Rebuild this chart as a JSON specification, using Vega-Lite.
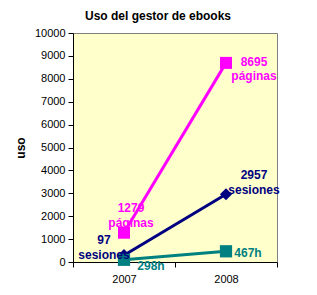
{
  "$schema": "https://vega.github.io/schema/vega-lite/v6.json",
  "width": 204,
  "height": 229,
  "autosize": "none",
  "padding": {"left": 73, "top": 33, "right": 40, "bottom": 33},
  "background": "white",
  "title": {"text": "Uso del gestor de ebooks", "font": "Liberation Sans", "fontSize": 12, "fontWeight": "bold", "color": "black", "anchor": "middle", "dx": -17, "offset": 4},
  "config": {
    "view": {"fill": "#FFFFCC", "stroke": "#808080", "strokeWidth": 1},
    "axis": {"labelFont": "Liberation Sans", "labelFontSize": 11, "labelColor": "black", "domainColor": "black", "tickColor": "black", "grid": false, "titleFont": "Liberation Sans", "titleFontSize": 12, "titleFontWeight": "bold", "titleColor": "black"}
  },
  "datasets": {
    "series": [
      {"serie": "paginas", "year": "2007", "value": 1279},
      {"serie": "paginas", "year": "2008", "value": 8695},
      {"serie": "sesiones", "year": "2007", "value": 298},
      {"serie": "sesiones", "year": "2008", "value": 2957},
      {"serie": "horas", "year": "2007", "value": 97},
      {"serie": "horas", "year": "2008", "value": 467}
    ],
    "labels": [
      {"id": "p08", "serie": "paginas", "year": "2008", "value": 8695, "text": "8695\npáginas"},
      {"id": "p07", "serie": "paginas", "year": "2007", "value": 1279, "text": "1279\npáginas"},
      {"id": "s07", "serie": "sesiones", "year": "2007", "value": 298, "text": "97\nsesiones"},
      {"id": "s08", "serie": "sesiones", "year": "2008", "value": 2957, "text": "2957\nsesiones"},
      {"id": "h07", "serie": "horas", "year": "2007", "value": 97, "text": "298h"},
      {"id": "h08", "serie": "horas", "year": "2008", "value": 467, "text": "467h"}
    ]
  },
  "encoding": {
    "x": {"field": "year", "type": "ordinal", "scale": {"type": "band", "paddingInner": 0, "paddingOuter": 0}, "axis": {"title": null, "labelAngle": 0, "tickBand": "extent", "tickSize": 5, "labelPadding": 6}},
    "y": {"field": "value", "type": "quantitative", "scale": {"domain": [0, 10000], "nice": false}, "axis": {"title": "uso", "values": [0, 1000, 2000, 3000, 4000, 5000, 6000, 7000, 8000, 9000, 10000], "format": "d", "tickSize": 5, "labelPadding": 3, "titlePadding": 7}},
    "color": {"field": "serie", "type": "nominal", "scale": {"domain": ["paginas", "sesiones", "horas"], "range": ["#FF00FF", "#000080", "#008080"]}, "legend": null}
  },
  "layer": [
    {"data": {"name": "series"}, "mark": {"type": "line", "strokeWidth": 3}},
    {"data": {"name": "series"}, "mark": {"type": "point", "filled": true, "opacity": 1},
      "encoding": {
        "shape": {"field": "serie", "type": "nominal", "scale": {"domain": ["paginas", "sesiones", "horas"], "range": ["square", "diamond", "square"]}, "legend": null},
        "size": {"field": "serie", "type": "nominal", "scale": {"domain": ["paginas", "sesiones", "horas"], "range": [144, 150, 100]}, "legend": null}
      }},
    {"data": {"name": "labels"}, "transform": [{"filter": "datum.id == 'p08'"}], "mark": {"type": "text", "font": "Liberation Sans", "fontSize": 12, "fontWeight": "bold", "lineBreak": "\n", "lineHeight": 14, "baseline": "middle", "align": "center", "dx": 28, "dy": -1}, "encoding": {"text": {"field": "text"}}},
    {"data": {"name": "labels"}, "transform": [{"filter": "datum.id == 'p07'"}], "mark": {"type": "text", "font": "Liberation Sans", "fontSize": 12, "fontWeight": "bold", "lineBreak": "\n", "lineHeight": 15, "baseline": "middle", "align": "center", "dx": 7, "dy": -25}, "encoding": {"text": {"field": "text"}}},
    {"data": {"name": "labels"}, "transform": [{"filter": "datum.id == 's07'"}], "mark": {"type": "text", "font": "Liberation Sans", "fontSize": 12, "fontWeight": "bold", "lineBreak": "\n", "lineHeight": 15, "baseline": "middle", "align": "center", "dx": -20, "dy": -15}, "encoding": {"text": {"field": "text"}}},
    {"data": {"name": "labels"}, "transform": [{"filter": "datum.id == 's08'"}], "mark": {"type": "text", "font": "Liberation Sans", "fontSize": 12, "fontWeight": "bold", "lineBreak": "\n", "lineHeight": 15, "baseline": "middle", "align": "center", "dx": 28, "dy": -19}, "encoding": {"text": {"field": "text"}}},
    {"data": {"name": "labels"}, "transform": [{"filter": "datum.id == 'h07'"}], "mark": {"type": "text", "font": "Liberation Sans", "fontSize": 12, "fontWeight": "bold", "baseline": "middle", "align": "center", "dx": 27, "dy": 6}, "encoding": {"text": {"field": "text"}}},
    {"data": {"name": "labels"}, "transform": [{"filter": "datum.id == 'h08'"}], "mark": {"type": "text", "font": "Liberation Sans", "fontSize": 12, "fontWeight": "bold", "baseline": "middle", "align": "center", "dx": 22, "dy": 2}, "encoding": {"text": {"field": "text"}}}
  ]
}
